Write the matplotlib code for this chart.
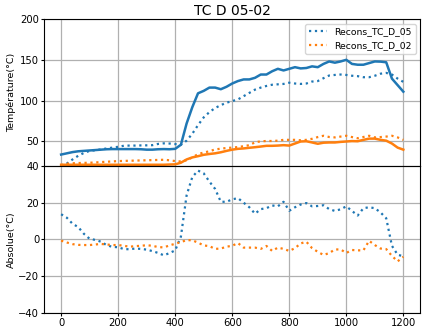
import matplotlib

matplotlib.use("Agg")
import matplotlib.pyplot as plt
import numpy as np

# time axis (s), one sample every 20 s
time_s = np.arange(0, 1201, 20)

# top panel: temperatures (°C)
tc05_meas = [34, 35.5, 37, 38, 38.5, 39, 39.5, 40, 40.5, 40.7,
             40.7, 40.7, 40.7, 40.7, 40.5, 40, 40, 40.5, 40.7, 40.5,
             41, 46, 72, 92, 109, 112, 116, 116, 114, 117,
             121, 124, 126, 126, 128, 132, 132, 136, 139, 137,
             139, 141, 139.5, 140, 142, 141, 145, 148, 146.5, 148,
             150, 145, 144, 144, 146, 148, 147.8, 147, 127, 119,
             111]
tc05_recons = [20, 23, 28, 32.5, 36, 38.5, 39.3, 40.3, 41.5, 42.5,
               43.5, 44.8, 45, 45, 45.2, 45.3, 45.5, 47, 47.7, 47.5,
               46.8, 46, 51, 59.5, 70, 79.5, 86, 91, 94.5, 97.5,
               99.5, 101.5, 105.5, 109.5, 113.5, 116, 118, 119.5, 120, 120.5,
               122, 121, 120.5, 121, 123.4, 124, 127.5, 130.8, 131.5, 132,
               131.5, 130.5, 130, 128.7, 128.7, 130.5, 133, 134, 132, 127,
               123]
tc02_meas = [21.5, 21.5, 21.5, 21.5, 21.5, 21.5, 21.5, 21.5, 21.5, 21.5,
             21.5, 21.5, 21.5, 21.5, 21.5, 21.5, 21.5, 21.5, 21.5, 21.8,
             22, 24, 28, 30.5, 32, 33.7, 34.7, 35.5, 36.8, 38.5,
             40, 41, 41.5, 42.3, 43, 43.8, 44.7, 44.7, 45, 45.5,
             45, 47.5, 50, 50.3, 48.8, 47.2, 48.5, 48.8, 48.8, 49.5,
             50, 50.5, 50.3, 52, 53.5, 53.5, 52, 51, 47.5, 42.5,
             40]
tc02_recons = [21, 22.7, 23.3, 23.6, 23.8, 24, 24.3, 24.8, 25.2, 25.6,
               26, 26.2, 26.4, 26.6, 26.8, 27, 27.2, 27.4, 27.6, 27,
               26, 25.5, 27, 30.5, 34.5, 36.5, 38, 40.3, 41.2, 42,
               42.5, 43.2, 44.2, 45.5, 49, 50.2, 50.6, 50.6, 51, 52,
               52, 52, 51.5, 52, 53.3, 55.4, 57, 55.5, 55, 56,
               57, 55.4, 54, 55.5, 57, 55, 55.4, 56, 57, 55,
               52]

# bottom panel: absolute error (°C)
abs05 = [13.7, 11.8, 8.5, 6.7, 3, 0.3, -0.3, -1.3, -3.2, -4.1,
         -4.3, -5.3, -5.4, -5, -5.2, -5.6, -6.4, -7.4, -8.7, -7.5,
         -6, 1.5, 24, 34, 37.5, 36, 31.5, 27.5, 20.5, 20.5,
         21.8, 22.5, 20, 17.5, 14, 16.5, 17, 18.5, 18, 20.5,
         15.6, 17.5, 19, 19.8, 18, 18.2, 18.6, 16.5, 15.5, 16.4,
         18, 15.5, 13, 17, 17.5, 17, 14.7, 11.5, -3.5, -8.4,
         -9.2]
abs02 = [-0.7, -1.7, -2.6, -3, -3.1, -3.1, -2.8, -2.5, -2.8, -3.1,
         -3.1, -3.5, -4, -3.7, -3.5, -3.2, -3.5, -4.2, -4.4, -3.3,
         -2.4, -1.5, -0.4, -0.5, -1.8, -3.3, -3.7, -5.2, -5, -4,
         -3.5, -2, -4.5, -4.5, -4.5, -5.2, -3.6, -6.3, -4.5, -5.2,
         -6.3, -4.8, -2.2, -1.3, -4.8, -6.8, -8.5, -7.5, -5.5, -5.5,
         -7.4, -5.8, -6, -6, -0.8, -3.1, -5, -5.3, -9, -12,
         -9.5]

fig = plt.figure(figsize=(4.22, 3.27), dpi=100)
ax1 = fig.add_axes([0.1043, 0.4924, 0.892, 0.4495])
ax2 = fig.add_axes([0.1043, 0.0437, 0.892, 0.4486], sharex=ax1)

ax1.plot(time_s, tc05_recons, ":", color="C0", lw=1.6, label="Recons_TC_D_05")
ax1.plot(time_s, tc02_recons, ":", color="C1", lw=1.6, label="Recons_TC_D_02")
ax1.plot(time_s, tc05_meas, "-", color="C0", lw=1.8)
ax1.plot(time_s, tc02_meas, "-", color="C1", lw=1.8)

ax2.plot(time_s, abs05, ":", color="C0", lw=1.6)
ax2.plot(time_s, abs02, ":", color="C1", lw=1.6)

ax1.set_ylim(20, 200)
ax1.set_yticks([50, 100, 150, 200])
ax2.set_ylim(-40, 40)
ax2.set_yticks([-40, -20, 0, 20, 40])
ax2.set_xticks(range(0, 1201, 200))
ax2.set_xlim(-60, 1260)

for ax in (ax1, ax2):
    ax.grid(True, color="#b0b0b0", lw=0.9)
    ax.tick_params(labelsize=7.2, length=2.5, pad=1)
ax1.tick_params(labelbottom=False)

ax1.set_title("TC D 05-02", fontsize=10, pad=3)
ax1.set_ylabel("Température(°C)", fontsize=6.8)
ax2.set_ylabel("Absolue(°C)", fontsize=6.8)
ax1.yaxis.set_label_coords(-0.074, 0.5)
ax2.yaxis.set_label_coords(-0.074, 0.5)

ax1.legend(loc="upper right", fontsize=6.7)

fig.savefig("out.png", dpi=100)
